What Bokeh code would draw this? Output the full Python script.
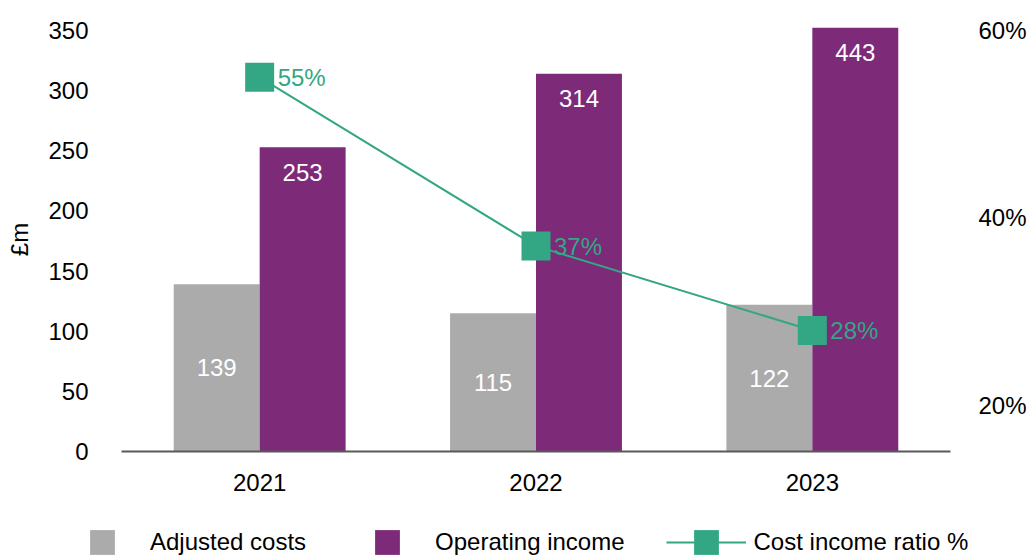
from bokeh.plotting import figure
from bokeh.layouts import column
from bokeh.models import (FactorRange, Range1d, LinearAxis, FixedTicker, PrintfTickFormatter,
                          Legend, LegendItem, ColumnDataSource)
from bokeh.transform import dodge
from bokeh.embed import file_html
from bokeh.resources import INLINE
from bokeh.core.properties import value

# ---- data ----
years = ["2021", "2022", "2023"]
adjusted_costs = [139, 115, 122]
operating_income = [253, 314, 443]
cost_income_ratio = [55, 37, 28]
left_ticks = [0, 50, 100, 150, 200, 250, 300, 350]
right_ticks = [20, 40, 60]
series_names = ["Adjusted costs", "Operating income", "Cost income ratio %"]

GREY = "#ABABAB"
PURPLE = "#7D2A79"
GREEN = "#33A783"
FONT = "Liberation Sans"
FS = "24px"

Y_MAX = 352.5
R_MIN, R_MAX = 15.09, 60.32
BAR_W = 0.311
OFF = BAR_W / 2

src = ColumnDataSource(dict(
    year=years,
    cost=adjusted_costs,
    income=operating_income,
    ratio=cost_income_ratio,
    cost_mid=[v / 2 for v in adjusted_costs],
    income_top=[min(v, Y_MAX) for v in operating_income],
    cost_lbl=[str(v) for v in adjusted_costs],
    income_lbl=[str(v) for v in operating_income],
    ratio_lbl=[f"{v}%" for v in cost_income_ratio],
))

p = figure(x_range=FactorRange(factors=years, range_padding=0),
           y_range=Range1d(0, Y_MAX),
           width=1029, height=505, output_backend="svg", toolbar_location=None,
           min_border_left=121, min_border_right=78, min_border_top=27, min_border_bottom=54)
p.extra_y_ranges = {"ratio": Range1d(R_MIN, R_MAX)}

p.vbar(x=dodge("year", -OFF, range=p.x_range), top="cost", width=BAR_W,
       fill_color=GREY, line_color=None, source=src)
p.vbar(x=dodge("year", OFF, range=p.x_range), top="income", width=BAR_W,
       fill_color=PURPLE, line_color=None, source=src)

p.text(x=dodge("year", -OFF, range=p.x_range), y="cost_mid", text="cost_lbl",
       text_align="center", text_baseline="middle", text_color="white",
       text_font=value(FONT), text_font_size=FS, source=src)
p.text(x=dodge("year", OFF, range=p.x_range), y="income_top", text="income_lbl",
       y_offset=25, text_align="center", text_baseline="middle", text_color="white",
       text_font=value(FONT), text_font_size=FS, source=src)

p.line(x="year", y="ratio", y_range_name="ratio", line_color=GREEN, line_width=2, source=src)
p.scatter(x="year", y="ratio", y_range_name="ratio", marker="square", size=29,
          fill_color=GREEN, line_color=None, source=src)
p.text(x="year", y="ratio", y_range_name="ratio", text="ratio_lbl", x_offset=18,
       text_align="left", text_baseline="middle", text_color=GREEN,
       text_font=value(FONT), text_font_size=FS, source=src)

# ---- axes ----
def style(ax):
    ax.major_tick_line_color = None
    ax.minor_tick_line_color = None
    ax.major_tick_out = 0
    ax.major_tick_in = 0
    ax.minor_tick_out = 0
    ax.minor_tick_in = 0
    ax.major_label_text_font = FONT
    ax.major_label_text_font_size = FS
    ax.major_label_text_color = "black"

yax = p.yaxis[0]
style(yax)
yax.ticker = FixedTicker(ticks=left_ticks)
yax.axis_line_color = None
yax.major_label_standoff = 33
yax.axis_label = "£m"
yax.axis_label_standoff = 12
yax.axis_label_text_font = FONT
yax.axis_label_text_font_size = FS
yax.axis_label_text_font_style = "normal"
yax.axis_label_text_color = "black"

rax = LinearAxis(y_range_name="ratio", ticker=FixedTicker(ticks=right_ticks),
                 formatter=PrintfTickFormatter(format="%d%%"))
style(rax)
rax.axis_line_color = None
rax.major_label_standoff = 28
p.add_layout(rax, "right")

xax = p.xaxis[0]
style(xax)
xax.axis_line_color = "#595959"
xax.axis_line_width = 2
xax.major_label_standoff = 22

p.xgrid.grid_line_color = None
p.ygrid.grid_line_color = None
p.outline_line_color = None

# ---- legend strip (own figure, so the legend is not clipped) ----
lg = figure(width=1029, height=50, output_backend="svg", toolbar_location=None,
            x_range=Range1d(0, 1), y_range=Range1d(0, 1),
            x_axis_type=None, y_axis_type=None,
            min_border_left=0, min_border_right=0, min_border_top=0, min_border_bottom=0)
lg.xgrid.grid_line_color = None
lg.ygrid.grid_line_color = None
lg.outline_line_color = None
for fig in (p, lg):
    if "frame_align" in fig.properties():
        fig.frame_align = False

# placeholder renderers (one point each, outside the visible range) for legend glyphs
d_cost = lg.scatter(x=[-9], y=[-9], marker="square", fill_color=GREY, line_color=None)
d_inc = lg.scatter(x=[-9], y=[-9], marker="square", fill_color=PURPLE, line_color=None)
d_line = lg.line(x=[-9, -8], y=[-9, -9], line_color=GREEN, line_width=2)
d_mark = lg.scatter(x=[-9], y=[-9], marker="square", fill_color=GREEN, line_color=None)

legend = Legend(items=[LegendItem(label=series_names[0], renderers=[d_cost]),
                       LegendItem(label=series_names[1], renderers=[d_inc]),
                       LegendItem(label=series_names[2], renderers=[d_line, d_mark])],
                orientation="horizontal", location=(62, -18),
                glyph_width=80, glyph_height=62, label_standoff=8, spacing=41,
                padding=0, margin=0, border_line_alpha=0, background_fill_alpha=0,
                label_text_font=FONT, label_text_font_size=FS, label_text_color="black")
lg.add_layout(legend, "center")

layout = column(p, lg, spacing=0)
open("out.html", "w").write(file_html(layout, INLINE))
